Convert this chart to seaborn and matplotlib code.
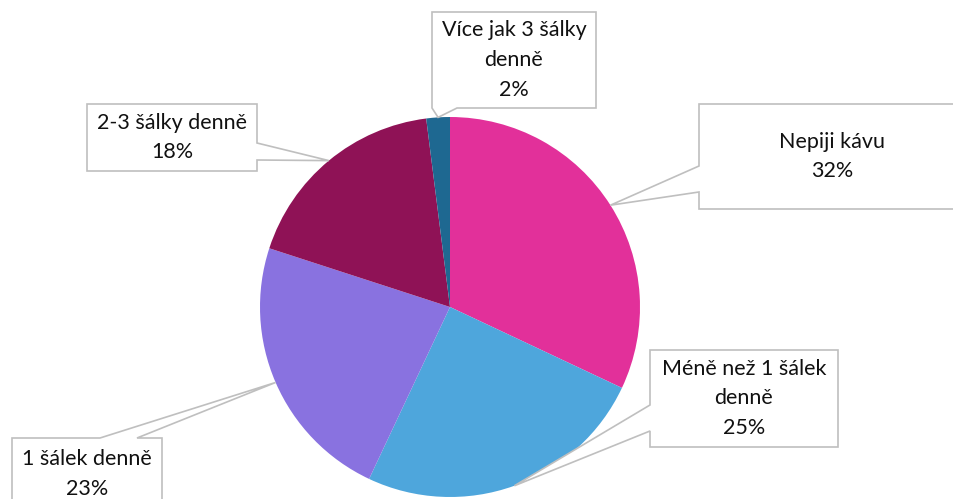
import numpy as np
import matplotlib
matplotlib.use("Agg")
import matplotlib.pyplot as plt
from matplotlib.patches import Polygon
import seaborn as sns

# data
labels = ["Nepiji kávu", "Méně než 1 šálek\ndenně", "1 šálek denně",
          "2-3 šálky denně", "Více jak 3 šálky\ndenně"]
shares = [32, 25, 23, 18, 2]
colors = ["#E2309A", "#4EA6DC", "#8972E0", "#8F1256", "#1E6891"]

W, H = 954, 499

sns.set_theme(style="white")
plt.rcParams['font.family'] = ['Lato', 'DejaVu Sans']

fig = plt.figure(figsize=(W / 100, H / 100), dpi=100)
ax = fig.add_axes([0, 0, 1, 1])

wedges, _ = ax.pie(shares, colors=colors, startangle=90, counterclock=False,
                   center=(450, H - 307), radius=190,
                   wedgeprops=dict(linewidth=0.6, edgecolor="none"))
ax.set_xlim(0, W)
ax.set_ylim(0, H)
ax.set_aspect("equal")
ax.axis("off")

# callout boxes (pixel layout, y measured from top): box, side, base span
boxes = [
    ((699, 104, 965, 209), "left", (166, 192)),
    ((650, 350, 838, 447), "left", (405, 431)),
    ((12, 438, 162, 530), "top", (100, 137)),
    ((87, 104, 257, 171), "right", (143, 160)),
    ((432, 12, 596, 108), "bottom", (432, 457)),
]


def callout(box, side, span, tip):
    x0, y0, x1, y1 = box
    a, b = span
    if side == "left":
        pts = [(x0, y0), (x1, y0), (x1, y1), (x0, y1), (x0, b), tip, (x0, a)]
    elif side == "right":
        pts = [(x0, y0), (x1, y0), (x1, a), tip, (x1, b), (x1, y1), (x0, y1)]
    elif side == "top":
        pts = [(x0, y0), (a, y0), tip, (b, y0), (x1, y0), (x1, y1), (x0, y1)]
    else:
        pts = [(x0, y0), (x1, y0), (x1, y1), (b, y1), tip, (a, y1), (x0, y1)]
    pts = [(px, H - py) for px, py in pts]
    return Polygon(pts, closed=True, facecolor="white", edgecolor="#BFBFBF",
                   linewidth=1.2, zorder=3)


for w, lab, val, (box, side, span) in zip(wedges, labels, shares, boxes):
    mid = np.deg2rad((w.theta1 + w.theta2) / 2)
    cx, cy = w.center
    tx = cx + w.r * np.cos(mid)
    ty = H - (cy + w.r * np.sin(mid))
    ax.add_patch(callout(box, side, span, (tx, ty)))
    bx = (box[0] + box[2]) / 2
    by = (box[1] + min(box[3], H + 20)) / 2
    if side == "top":
        by = 474
    ax.text(bx, H - by, f"{lab}\n{val}%", ha="center", va="center",
            fontsize=15.5, color="#111111", linespacing=1.6, zorder=4)

fig.savefig("out.png", dpi=100, facecolor="white")
